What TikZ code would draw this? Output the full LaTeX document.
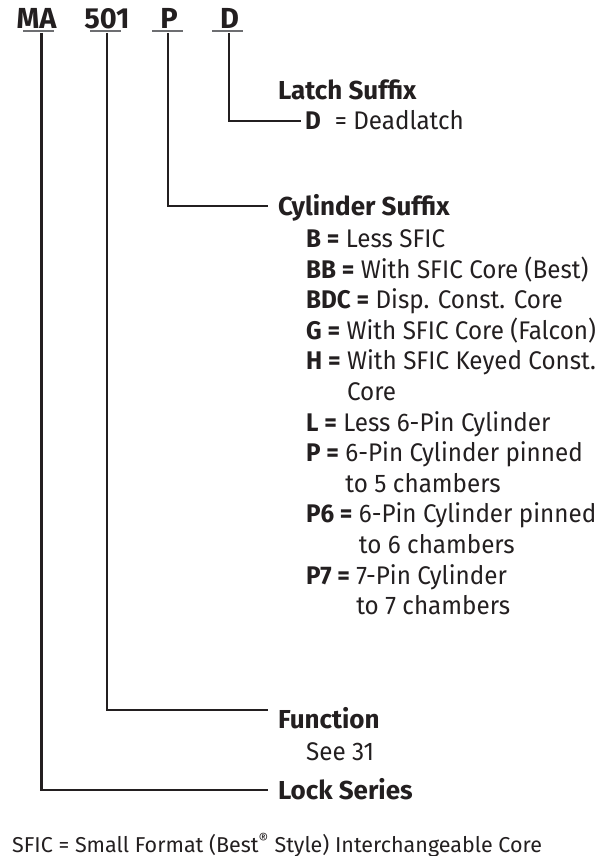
\documentclass[tikz,border=0pt]{standalone}
\usepackage{fontspec}
\setmainfont{Fira Sans}
\newfontfamily\listfont{Fira Sans}[FakeStretch=0.95]
\definecolor{ink}{HTML}{231F20}
\definecolor{rulegrey}{HTML}{6D6E71}
\tikzset{
  code/.style = {font=\fontsize{29}{30}\selectfont\bfseries, text=ink,
                 inner sep=0pt, anchor=base},
  uline/.style = {draw=rulegrey, line width=2pt},
  lead/.style = {draw=ink, line width=2.4pt},
  head/.style = {font=\fontsize{26}{27}\selectfont\bfseries, text=ink,
                 inner sep=0pt, outer xsep=10pt, text height=17.5pt,
                 text depth=0pt, anchor=base west},
  item/.style = {font=\listfont\fontsize{25.5}{26}\selectfont, text=ink,
                 inner sep=0pt, anchor=base west}
}
\begin{document}
\begin{tikzpicture}[x=1pt, y=-1pt]
	\def \xl{306}
	\def \yl{247.5}
	\def \lh{30.6}
	\useasboundingbox (0,0) rectangle (606,856);

	% Model number
	\node[code] (ma)   at (36.5,29)  {MA};
	\node[code] (n501) at (107,29)   {501};
	\node[code] (p)    at (169,29)   {P};
	\node[code] (d)    at (229.5,29) {D};

	% Underlines
	\draw[uline] ([xshift=-13.5pt,yshift=-2pt]ma.base)   -- ++(31,0);
	\draw[uline] ([xshift=-17pt,yshift=-2pt]n501.base)   -- ++(31,0);
	\draw[uline] ([xshift=-17pt,yshift=-2pt]p.base)      -- ++(31,0);
	\draw[uline] ([xshift=-17.5pt,yshift=-2pt]d.base)    -- ++(31,0);

	% Headings
	\node[head] (latch) at (268,100) {Latch Suffix};
	\node[head] (cyl)   at (268,215) {Cylinder Suffix};
	\node[head] (func)  at (268,728) {Function};
	\node[head] (lock)  at (268,799) {Lock Series};

	% Latch suffix
	\node[item, outer xsep=4pt, text height=17.5pt, text depth=0pt] (itD) at (301,130)
		{\textbf{D}\hspace{0.55em}= Deadlatch};

	% Cylinder suffix
	\node[item] (itB)   at (\xl,\yl)          {\textbf{B =} Less SFIC};
	\node[item] (itBB)  at (\xl,\yl+1*\lh)    {\textbf{BB =} With SFIC Core (Best)};
	\node[item] (itBDC) at (\xl,\yl+2*\lh)    {\textbf{BDC =} Disp. Const. Core};
	\node[item] (itG)   at (\xl,\yl+3*\lh)    {\textbf{G =} With SFIC Core (Falcon)};
	\node[item] (itH)   at (\xl,\yl+4*\lh)    {\textbf{H =} With SFIC Keyed Const.};
	\node[item] (itHb)  at (\xl,\yl+5*\lh)    {\phantom{\textbf{H =}} Core};
	\node[item] (itL)   at (\xl,\yl+6*\lh)    {\textbf{L =} Less 6-Pin Cylinder};
	\node[item] (itP)   at (\xl,\yl+7*\lh)    {\textbf{P =} 6-Pin Cylinder pinned};
	\node[item] (itPb)  at (\xl,\yl+8*\lh)    {\phantom{\textbf{P =}} to 5 chambers};
	\node[item] (itPs)  at (\xl,\yl+9*\lh)    {\textbf{P6 =} 6-Pin Cylinder pinned};
	\node[item] (itPsb) at (\xl,\yl+10*\lh)   {\phantom{\textbf{P6 =}} to 6 chambers};
	\node[item] (itPz)  at (\xl,\yl+11*\lh)   {\textbf{P7 =} 7-Pin Cylinder};
	\node[item] (itPzb) at (\xl,\yl+12*\lh)   {\phantom{\textbf{P7 =}} to 7 chambers};

	% Function
	\node[item] (see) at (306,760) {See 31};

	% Leaders
	\draw[lead] ([xshift=5pt,yshift=-4pt]ma.base)    |- (lock.west);
	\draw[lead] ([yshift=-4pt]n501.base)             |- ([yshift=9pt]func.west);
	\draw[lead] ([xshift=-1pt,yshift=-4pt]p.base)    |- (cyl.west);
	\draw[lead] ([xshift=-0.5pt,yshift=-4pt]d.base)  |- (itD.west);

	% Note
	\node[item, font=\fontsize{21.5}{22}\selectfont] (note) at (12,852)
		{SFIC = Small Format (Best\textsuperscript{®} Style) Interchangeable Core};
\end{tikzpicture}
\end{document}
